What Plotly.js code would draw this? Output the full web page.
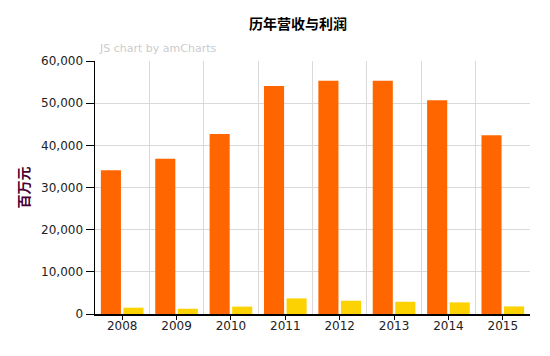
<!DOCTYPE html>
<html>
<head>
<meta charset="utf-8">
<script src="https://cdn.plot.ly/plotly-3.0.1.min.js"></script>
<style>html,body{margin:0;padding:0;background:#fff;}#chart{width:550px;height:356px;}</style>
</head>
<body>
<div id="chart"></div>
<script>
const years = ['2008','2009','2010','2011','2012','2013','2014','2015'];
const revenue = [34100, 36800, 42700, 54100, 55300, 55300, 50700, 42400];
const profit = [1500, 1250, 1750, 3700, 3150, 2900, 2750, 1800];
const yTitle = '百万元';
const chartTitle = '历年营收与利润';
const watermark = 'JS chart by amCharts';

const font = {family: 'DejaVu Sans, Verdana, sans-serif', size: 12, color: '#222'};

const traces = [
  {type: 'bar', x: years, y: revenue, name: '营收', marker: {color: '#FF6600'}, hoverinfo: 'x+y'},
  {type: 'bar', x: years, y: profit, name: '利润', marker: {color: '#FCD202'}, hoverinfo: 'x+y'},
  {type: 'scatter', mode: 'none', x: years, y: profit, xaxis: 'x2', yaxis: 'y', showlegend: false, hoverinfo: 'skip'}
];

const layout = {
  width: 550, height: 356,
  margin: {l: 95, r: 20, t: 61, b: 42},
  paper_bgcolor: '#fff', plot_bgcolor: '#fff',
  showlegend: false,
  barmode: 'group', bargap: 0.17, bargroupgap: 0.11,
  font: font,
  xaxis: {
    type: 'category', tickson: 'boundaries', showgrid: true, gridcolor: '#d9d9d9', gridwidth: 1,
    ticks: '', showline: true, linecolor: '#000', linewidth: 1.5,
    tickfont: font, zeroline: false, fixedrange: true
  },
  xaxis2: {
    type: 'category', overlaying: 'x', matches: 'x', side: 'bottom', showgrid: false,
    ticks: 'outside', ticklen: 5, tickcolor: '#000', showticklabels: false, showline: false, zeroline: false
  },
  yaxis: {
    range: [0, 60000], dtick: 10000, tickformat: ',d', showgrid: true, gridcolor: '#d9d9d9',
    showline: true, linecolor: '#000', linewidth: 1.5, ticks: 'outside', ticklen: 8, tickcolor: '#000',
    zeroline: false, tickfont: font,
    title: {text: '<b>' + yTitle + '</b>', font: {family: 'Noto Sans CJK SC, sans-serif', size: 14, color: '#4B0032'}, standoff: 8}
  },
  annotations: [
    {text: '<b>' + chartTitle + '</b>', xref: 'paper', yref: 'paper', x: (298 - 95) / 435, y: 1, yshift: 38,
     xanchor: 'center', yanchor: 'middle', showarrow: false,
     font: {family: 'Noto Sans CJK SC, sans-serif', size: 14, color: '#000'}},
    {text: watermark, xref: 'paper', yref: 'paper', x: 0, xshift: 2, y: 1, yshift: 13,
     xanchor: 'left', yanchor: 'middle', showarrow: false,
     font: {family: 'DejaVu Sans, Verdana, sans-serif', size: 11, color: '#cccccc'}}
  ]
};

Plotly.newPlot('chart', traces, layout, {displayModeBar: false, staticPlot: true});
</script>
</body>
</html>
